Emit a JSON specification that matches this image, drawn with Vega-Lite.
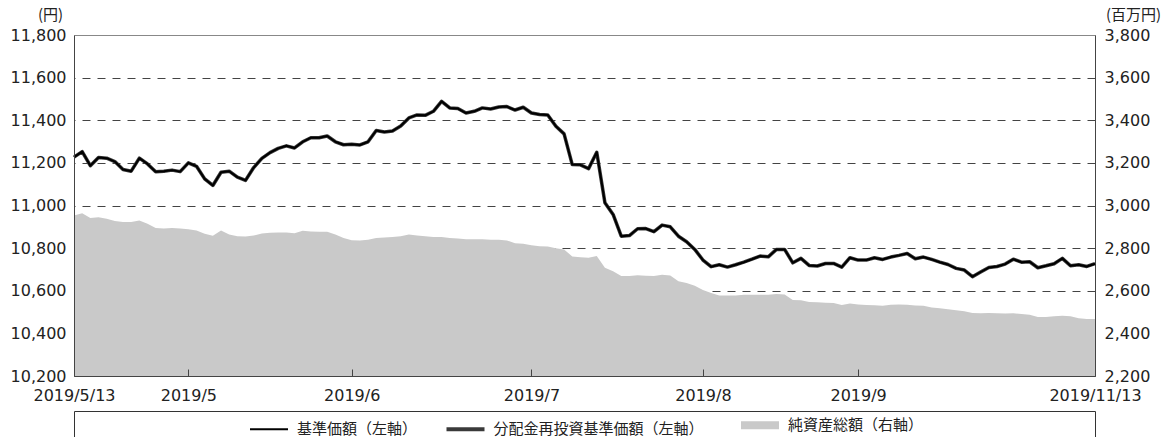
{
 "$schema": "https://vega.github.io/schema/vega-lite/v6.json",
 "width": 1021,
 "height": 341,
 "autosize": {"type": "none"},
 "padding": {"left": 74, "top": 35, "right": 80, "bottom": 61},
 "background": "white",
 "config": {"view": {"stroke": "#888", "strokeWidth": 1}, "font": "DejaVu Sans"},
 "data": {"values": [
  {"date":"2019-05-13","nav":11227,"assets":2953},{"date":"2019-05-14","nav":11253,"assets":2964},{"date":"2019-05-15","nav":11187,"assets":2941},{"date":"2019-05-16","nav":11225,"assets":2945},{"date":"2019-05-17","nav":11222,"assets":2938},
  {"date":"2019-05-20","nav":11206,"assets":2927},{"date":"2019-05-21","nav":11169,"assets":2923},{"date":"2019-05-22","nav":11161,"assets":2922},{"date":"2019-05-23","nav":11222,"assets":2930},{"date":"2019-05-24","nav":11195,"assets":2914},
  {"date":"2019-05-27","nav":11158,"assets":2894},{"date":"2019-05-28","nav":11161,"assets":2892},{"date":"2019-05-29","nav":11166,"assets":2894},{"date":"2019-05-30","nav":11159,"assets":2892},{"date":"2019-05-31","nav":11200,"assets":2888},
  {"date":"2019-06-03","nav":11184,"assets":2883},{"date":"2019-06-04","nav":11125,"assets":2867},{"date":"2019-06-05","nav":11094,"assets":2858},{"date":"2019-06-06","nav":11156,"assets":2883},{"date":"2019-06-07","nav":11161,"assets":2864},
  {"date":"2019-06-10","nav":11133,"assets":2856},{"date":"2019-06-11","nav":11118,"assets":2854},{"date":"2019-06-12","nav":11178,"assets":2859},{"date":"2019-06-13","nav":11221,"assets":2869},{"date":"2019-06-14","nav":11248,"assets":2872},
  {"date":"2019-06-17","nav":11268,"assets":2873},{"date":"2019-06-18","nav":11280,"assets":2873},{"date":"2019-06-19","nav":11270,"assets":2870},{"date":"2019-06-20","nav":11299,"assets":2881},{"date":"2019-06-21","nav":11318,"assets":2878},
  {"date":"2019-06-24","nav":11318,"assets":2877},{"date":"2019-06-25","nav":11326,"assets":2877},{"date":"2019-06-26","nav":11299,"assets":2864},{"date":"2019-06-27","nav":11285,"assets":2848},{"date":"2019-06-28","nav":11287,"assets":2837},
  {"date":"2019-07-01","nav":11284,"assets":2836},{"date":"2019-07-02","nav":11299,"assets":2839},{"date":"2019-07-03","nav":11352,"assets":2848},{"date":"2019-07-04","nav":11345,"assets":2850},{"date":"2019-07-05","nav":11350,"assets":2852},
  {"date":"2019-07-08","nav":11373,"assets":2856},{"date":"2019-07-09","nav":11411,"assets":2864},{"date":"2019-07-10","nav":11425,"assets":2859},{"date":"2019-07-11","nav":11423,"assets":2856},{"date":"2019-07-12","nav":11442,"assets":2852},
  {"date":"2019-07-16","nav":11489,"assets":2852},{"date":"2019-07-17","nav":11458,"assets":2848},{"date":"2019-07-18","nav":11455,"assets":2845},{"date":"2019-07-19","nav":11434,"assets":2842},
  {"date":"2019-07-22","nav":11442,"assets":2842},{"date":"2019-07-23","nav":11458,"assets":2842},{"date":"2019-07-24","nav":11453,"assets":2839},{"date":"2019-07-25","nav":11462,"assets":2839},{"date":"2019-07-26","nav":11464,"assets":2836},
  {"date":"2019-07-29","nav":11448,"assets":2823},{"date":"2019-07-30","nav":11461,"assets":2820},{"date":"2019-07-31","nav":11434,"assets":2814},{"date":"2019-08-01","nav":11427,"assets":2809},{"date":"2019-08-02","nav":11425,"assets":2808},
  {"date":"2019-08-05","nav":11372,"assets":2800},{"date":"2019-08-06","nav":11336,"assets":2794},{"date":"2019-08-07","nav":11192,"assets":2761},{"date":"2019-08-08","nav":11191,"assets":2757},{"date":"2019-08-09","nav":11173,"assets":2755},
  {"date":"2019-08-13","nav":11250,"assets":2763},{"date":"2019-08-14","nav":11013,"assets":2708},{"date":"2019-08-15","nav":10958,"assets":2692},{"date":"2019-08-16","nav":10856,"assets":2669},
  {"date":"2019-08-19","nav":10859,"assets":2669},{"date":"2019-08-20","nav":10891,"assets":2673},{"date":"2019-08-21","nav":10892,"assets":2670},{"date":"2019-08-22","nav":10877,"assets":2669},{"date":"2019-08-23","nav":10908,"assets":2675},
  {"date":"2019-08-26","nav":10900,"assets":2672},{"date":"2019-08-27","nav":10856,"assets":2644},{"date":"2019-08-28","nav":10830,"assets":2636},{"date":"2019-08-29","nav":10794,"assets":2623},{"date":"2019-08-30","nav":10744,"assets":2603},
  {"date":"2019-09-02","nav":10713,"assets":2589},{"date":"2019-09-03","nav":10722,"assets":2578},{"date":"2019-09-04","nav":10711,"assets":2578},{"date":"2019-09-05","nav":10722,"assets":2578},{"date":"2019-09-06","nav":10734,"assets":2581},
  {"date":"2019-09-09","nav":10748,"assets":2581},{"date":"2019-09-10","nav":10763,"assets":2581},{"date":"2019-09-11","nav":10759,"assets":2581},{"date":"2019-09-12","nav":10794,"assets":2585},{"date":"2019-09-13","nav":10794,"assets":2582},
  {"date":"2019-09-17","nav":10731,"assets":2557},{"date":"2019-09-18","nav":10752,"assets":2555},{"date":"2019-09-19","nav":10719,"assets":2547},{"date":"2019-09-20","nav":10716,"assets":2546},
  {"date":"2019-09-24","nav":10728,"assets":2544},{"date":"2019-09-25","nav":10728,"assets":2542},{"date":"2019-09-26","nav":10711,"assets":2533},{"date":"2019-09-27","nav":10755,"assets":2540},{"date":"2019-09-30","nav":10744,"assets":2535},
  {"date":"2019-10-01","nav":10744,"assets":2533},{"date":"2019-10-02","nav":10755,"assets":2532},{"date":"2019-10-03","nav":10747,"assets":2530},{"date":"2019-10-04","nav":10758,"assets":2534},
  {"date":"2019-10-07","nav":10766,"assets":2535},{"date":"2019-10-08","nav":10775,"assets":2534},{"date":"2019-10-09","nav":10750,"assets":2531},{"date":"2019-10-10","nav":10758,"assets":2530},{"date":"2019-10-11","nav":10747,"assets":2521},
  {"date":"2019-10-15","nav":10734,"assets":2518},{"date":"2019-10-16","nav":10723,"assets":2513},{"date":"2019-10-17","nav":10705,"assets":2509},{"date":"2019-10-18","nav":10697,"assets":2504},
  {"date":"2019-10-21","nav":10666,"assets":2496},{"date":"2019-10-23","nav":10688,"assets":2494},{"date":"2019-10-24","nav":10709,"assets":2496},{"date":"2019-10-25","nav":10714,"assets":2494},
  {"date":"2019-10-28","nav":10725,"assets":2493},{"date":"2019-10-29","nav":10748,"assets":2494},{"date":"2019-10-30","nav":10734,"assets":2491},{"date":"2019-10-31","nav":10736,"assets":2487},{"date":"2019-11-01","nav":10708,"assets":2477},
  {"date":"2019-11-05","nav":10717,"assets":2477},{"date":"2019-11-06","nav":10727,"assets":2480},{"date":"2019-11-07","nav":10752,"assets":2483},{"date":"2019-11-08","nav":10717,"assets":2480},
  {"date":"2019-11-11","nav":10722,"assets":2471},{"date":"2019-11-12","nav":10714,"assets":2468},{"date":"2019-11-13","nav":10727,"assets":2468}
 ]},
 "layer": [
  {
   "mark": {"type": "area", "color": "#c9c9c9", "clip": true},
   "encoding": {
    "x": {"field": "date", "type": "ordinal", "scale": {"type": "point", "padding": 0},
     "axis": {"orient": "bottom", "offset": 35, "title": null, "values": ["2019-05-13", "2019-11-13"], "labels": false, "ticks": true, "tickSize": 30, "domain": true, "domainColor": "#333", "tickColor": "#333", "grid": false, "zindex": 0}},
    "y": {"field": "assets", "type": "quantitative", "scale": {"domain": [2200, 3800], "nice": false, "zero": false},
     "axis": {"orient": "right", "zindex": 0, "title": "(百万円)", "values": [2200, 2400, 2600, 2800, 3000, 3200, 3400, 3600, 3800], "format": ",.0f",
      "grid": true, "gridDash": [8, 7], "gridColor": "#444", "gridOpacity": {"condition": {"test": "datum.value == 3800 || datum.value == 2200", "value": 0}, "value": 1},
      "domain": true, "domainColor": "#444", "ticks": false, "labelPadding": 9, "labelFont": "DejaVu Sans", "labelFontSize": 16, "labelColor": "#222",
      "titleAngle": 0, "titleX": 38, "titleY": -21, "titleAlign": "center", "titleBaseline": "middle", "titleFont": "Noto Sans CJK JP", "titleFontSize": 15, "titleFontWeight": "normal", "titleColor": "#222"}},
    "color": {"datum": "純資産総額（右軸）", "type": "nominal",
     "scale": {"domain": ["基準価額（左軸）", "分配金再投資基準価額（左軸）", "純資産総額（右軸）"], "range": ["#000000", "#3a3a3a", "#c9c9c9"]},
     "legend": {"orient": "none", "legendX": 176, "legendY": 382.5, "direction": "horizontal", "title": null, "padding": 0,
      "symbolType": "stroke", "symbolSize": 1444, "symbolStrokeWidth": 4, "symbolOffset": 11.5, "labelFont": "Noto Sans CJK JP", "labelFontSize": 15, "labelColor": "#222",
      "labelOffset": 20.5, "labelLimit": 0, "columnPadding": 20.5,
      "encode": {"symbols": {"update": {
        "fill": {"value": "transparent"},
        "stroke": {"scale": "color", "field": "value"},
        "strokeCap": {"value": "butt"},
        "strokeWidth": {"signal": "datum.value === '純資産総額（右軸）' ? 8 : (datum.value === '基準価額（左軸）' ? 2 : 4)"}}}}}}
   }
  },
  {
   "layer": [
    {
     "mark": {"type": "line", "strokeWidth": 3.5, "strokeJoin": "round"},
     "encoding": {
      "x": {"field": "date", "type": "ordinal", "scale": {"type": "point", "padding": 0},
       "axis": {"orient": "bottom", "zindex": 1, "title": null, "values": ["2019-05-13", "2019-05-31", "2019-06-28", "2019-07-31", "2019-08-30", "2019-09-30", "2019-11-13"],
        "labelExpr": "datum.value == '2019-05-13' ? '2019/5/13' : (datum.value == '2019-11-13' ? '2019/11/13' : '2019/' + toNumber(substring(datum.value, 5, 7)))",
        "labelAngle": 0, "labelFont": "DejaVu Sans", "labelFontSize": 16, "labelColor": "#222", "labelPadding": 18, "labelOverlap": false, "labelFlush": false, "labelBound": false,
        "domainColor": "#444", "tickColor": "#444", "tickSize": -7, "ticks": true, "grid": false}},
      "y": {"field": "nav", "type": "quantitative", "scale": {"domain": [10200, 11800], "nice": false, "zero": false},
       "axis": {"orient": "left", "zindex": 1, "title": "(円)", "values": [10200, 10400, 10600, 10800, 11000, 11200, 11400, 11600, 11800], "format": ",.0f",
        "grid": false, "domain": true, "domainColor": "#444", "ticks": false, "labelPadding": 8, "labelFont": "DejaVu Sans", "labelFontSize": 16, "labelColor": "#222",
        "titleAngle": 0, "titleX": -24, "titleY": -21, "titleAlign": "center", "titleBaseline": "middle", "titleFont": "Noto Sans CJK JP", "titleFontSize": 15, "titleFontWeight": "normal", "titleColor": "#222"}},
      "color": {"datum": "分配金再投資基準価額（左軸）", "type": "nominal"}
     }
    },
    {
     "mark": {"type": "line", "strokeWidth": 2, "strokeJoin": "round"},
     "encoding": {
      "x": {"field": "date", "type": "ordinal", "scale": {"type": "point", "padding": 0},
       "axis": {"orient": "bottom", "zindex": 1, "title": null, "values": ["2019-05-13", "2019-05-31", "2019-06-28", "2019-07-31", "2019-08-30", "2019-09-30", "2019-11-13"],
        "labelExpr": "datum.value == '2019-05-13' ? '2019/5/13' : (datum.value == '2019-11-13' ? '2019/11/13' : '2019/' + toNumber(substring(datum.value, 5, 7)))",
        "labelAngle": 0, "labelFont": "DejaVu Sans", "labelFontSize": 16, "labelColor": "#222", "labelPadding": 18, "labelOverlap": false, "labelFlush": false, "labelBound": false,
        "domainColor": "#444", "tickColor": "#444", "tickSize": -7, "ticks": true, "grid": false}},
      "y": {"field": "nav", "type": "quantitative", "scale": {"domain": [10200, 11800], "nice": false, "zero": false},
       "axis": {"orient": "left", "zindex": 1, "title": "(円)", "values": [10200, 10400, 10600, 10800, 11000, 11200, 11400, 11600, 11800], "format": ",.0f",
        "grid": false, "domain": true, "domainColor": "#444", "ticks": false, "labelPadding": 8, "labelFont": "DejaVu Sans", "labelFontSize": 16, "labelColor": "#222",
        "titleAngle": 0, "titleX": -24, "titleY": -21, "titleAlign": "center", "titleBaseline": "middle", "titleFont": "Noto Sans CJK JP", "titleFontSize": 15, "titleFontWeight": "normal", "titleColor": "#222"}},
      "color": {"datum": "基準価額（左軸）", "type": "nominal"}
     }
    }
   ]
  }
 ],
 "resolve": {"scale": {"x": "independent", "y": "independent"}}
}
